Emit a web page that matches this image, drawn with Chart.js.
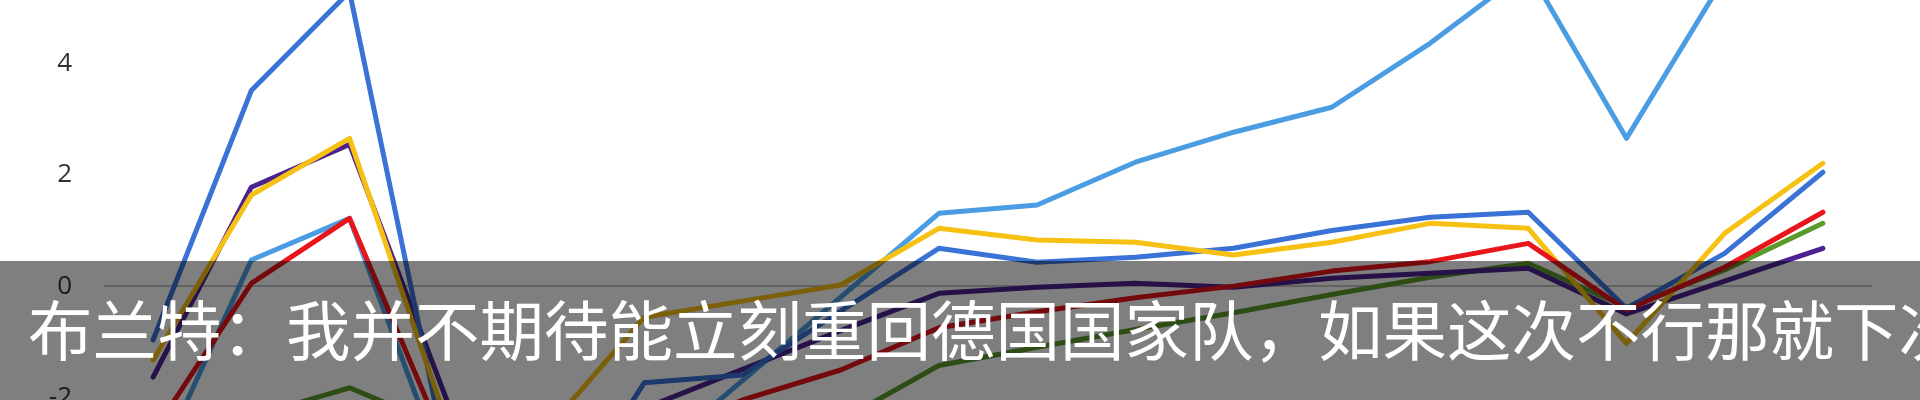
<!DOCTYPE html>
<html><head><meta charset="utf-8">
<script src="https://cdn.jsdelivr.net/npm/chart.js@4.4.1/dist/chart.umd.min.js"></script>
<style>
html,body{margin:0;padding:0;background:#fff;width:1920px;height:400px;overflow:hidden}
#wrap{position:relative;width:1920px;height:400px}
#c{position:absolute;left:0;top:0}
#caption{position:absolute;left:0;top:261px;width:1920px;height:139px;background:rgba(0,0,0,0.5);overflow:hidden}
#caption span{position:absolute;left:28px;top:34px;font-family:"Noto Sans CJK SC";font-size:64.5px;line-height:65px;color:#fff;white-space:nowrap}
</style></head>
<body>
<div id="wrap">
<canvas id="c" width="1920" height="400"></canvas>
<div id="caption"><span id="captext"></span></div>
</div>
<script>
const categories = ['1','2','3','4','5','6','7','8','9','10','11','12','13','14','15','16','17','18'];
const tickValues = [-2, 0, 2, 4];
const captionText = '布兰特：我并不期待能立刻重回德国国家队，如果这次不行那就下次';

const redSeries       = [-2.64, 0.05, 1.22, -2.95, -3.0, -2.8, -2.05, -1.51, -0.75, -0.46, -0.21, 0.0, 0.27, 0.44, 0.77, -0.43, 0.34, 1.33];
const yellowSeries    = [-1.33, 1.64, 2.66, -2.5, -2.6, -0.56, -0.27, 0.02, 1.04, 0.83, 0.79, 0.56, 0.79, 1.13, 1.04, -1.03, 0.95, 2.21];
const blueSeries      = [-0.97, 3.52, 5.3, -3.2, -4.5, -1.74, -1.6, -0.45, 0.68, 0.43, 0.52, 0.68, 1.0, 1.24, 1.33, -0.4, 0.59, 2.05];
const purpleSeries    = [-1.64, 1.78, 2.55, -2.1, -2.8, -2.2, -1.5, -0.8, -0.13, -0.02, 0.05, -0.02, 0.14, 0.23, 0.32, -0.5, 0.09, 0.68];
const greenSeries     = [-2.6, -2.35, -1.83, -2.57, -2.7, -2.7, -2.6, -2.42, -1.43, -1.1, -0.78, -0.48, -0.15, 0.16, 0.41, -0.38, 0.29, 1.13];
const lightBlueSeries = [-3.4, 0.47, 1.22, -3.5, -3.5, -3.2, -1.7, -0.2, 1.31, 1.46, 2.23, 2.77, 3.22, 4.37, 5.7, 2.66, 5.56, 6.3];

document.getElementById('captext').textContent = captionText;

function ds(data, color){
  return {data:data, borderColor:color, backgroundColor:color, fill:false};
}

new Chart(document.getElementById('c').getContext('2d'), {
  type:'line',
  data:{
    labels:categories,
    datasets:[
      ds(redSeries,'#e8151b'),
      ds(yellowSeries,'#f6c112'),
      ds(blueSeries,'#3a72d6'),
      ds(purpleSeries,'#4c2292'),
      ds(greenSeries,'#5a9a2b'),
      ds(lightBlueSeries,'#4b9de3')
    ]
  },
  options:{
    responsive:false,
    devicePixelRatio:1,
    animation:false,
    layout:{padding:{left:0,right:48,top:0,bottom:0}},
    plugins:{legend:{display:false},tooltip:{enabled:false}},
    elements:{
      point:{radius:0,hoverRadius:0},
      line:{borderWidth:5,tension:0,borderCapStyle:'round',borderJoinStyle:'round'}
    },
    scales:{
      x:{display:false,offset:true},
      y:{
        min:-2.05,max:5.15,
        border:{display:false},
        grid:{drawTicks:false,lineWidth:2,color:(c)=> (c.tick && c.tick.value===0) ? '#c4c4c4' : 'rgba(0,0,0,0)'},
        ticks:{padding:32,color:'#333333',font:{family:'Open Sans',size:26}},
        afterBuildTicks:(s)=>{ s.ticks = tickValues.map(v=>({value:v})); },
        afterFit:(s)=>{ s.width = 104; s.paddingTop = 0; s.paddingBottom = 0; }
      }
    }
  }
});
</script>
</body></html>
